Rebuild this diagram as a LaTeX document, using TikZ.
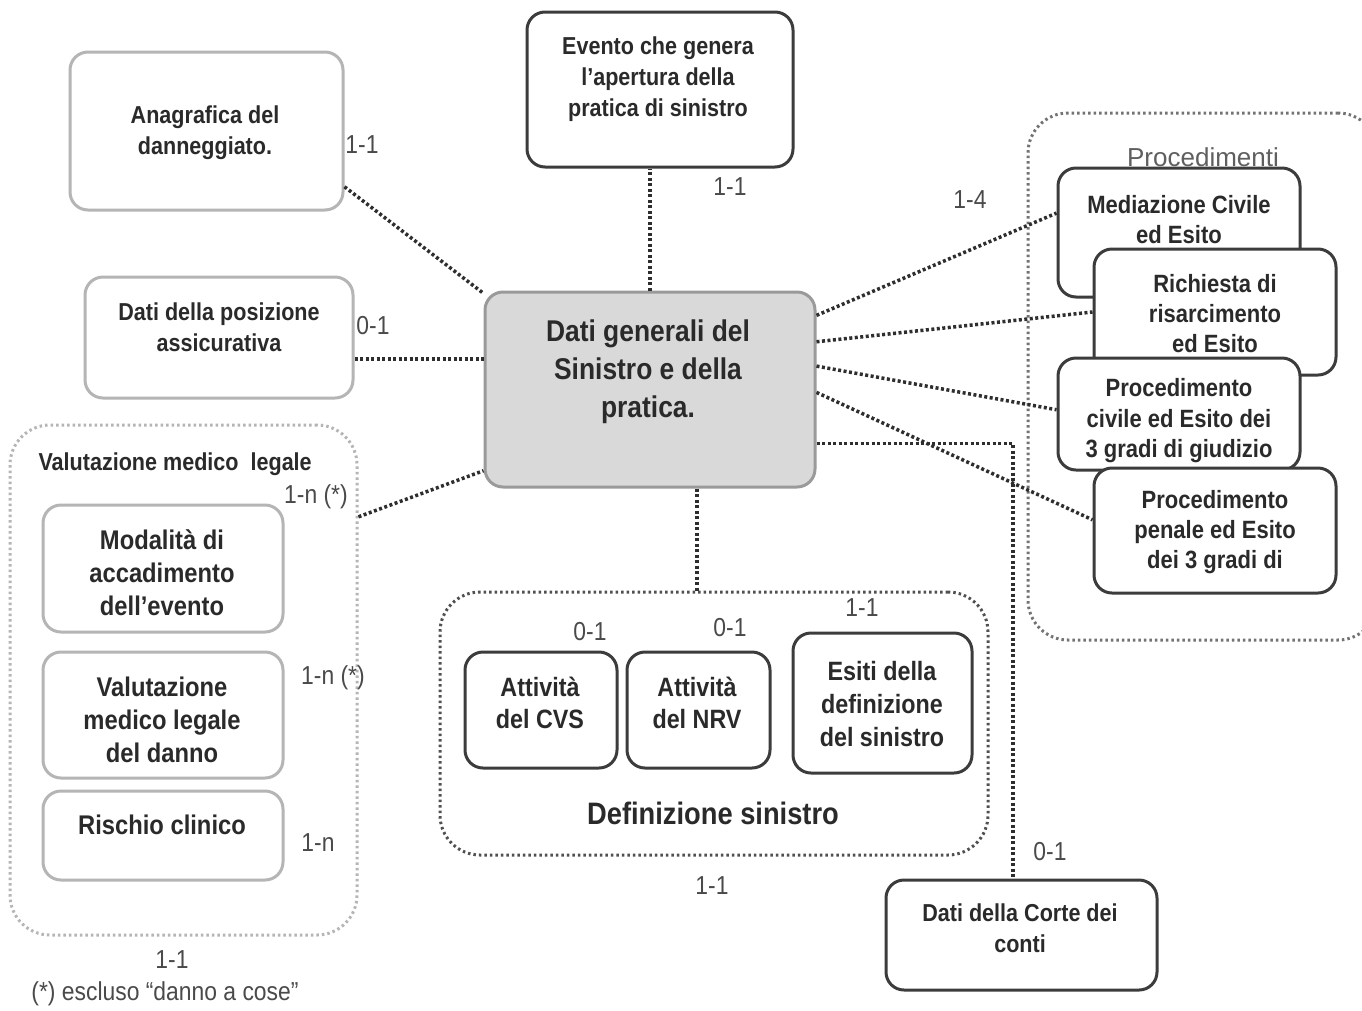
\documentclass[tikz,border=0pt]{standalone}
\usepackage{fontspec}
\setmainfont{Liberation Sans}[FakeStretch=0.88]
\newfontfamily\wideff{Liberation Sans}
\usetikzlibrary{calc}
\definecolor{lightln}{HTML}{B5B5B5}
\definecolor{darkln}{HTML}{3C3C3C}
\definecolor{txt}{HTML}{2A2A2A}
\definecolor{ctrfill}{HTML}{D9D9D9}
\definecolor{ctrln}{HTML}{9A9A9A}
\definecolor{dotln}{HTML}{2E2E2E}
\begin{document}
\begin{tikzpicture}[x=1pt,y=-1pt,
  every node/.style={text=txt},
  boxbase/.style={rectangle, rounded corners=18pt, inner sep=0pt, line width=3pt},
  lbox/.style={boxbase, draw=lightln, fill=white},
  dbox/.style={boxbase, draw=darkln, fill=white},
  cbox/.style={boxbase, draw=ctrln, fill=ctrfill},
  grp/.style={rectangle, rounded corners=40pt, inner sep=0pt, line width=3pt, dash pattern=on 2.5pt off 3pt},
  btxt/.style={align=center, font=\fontsize{24.5}{31}\selectfont\bfseries},
  ltxt/.style={align=center, font=\fontsize{27}{33}\selectfont\bfseries},
  dtxt/.style={align=center, font=\fontsize{26.5}{33}\selectfont\bfseries},
  ctxt/.style={align=center, font=\fontsize{30}{38}\selectfont\bfseries},
  lab/.style={font=\fontsize{26}{30}\selectfont, text=txt!85},
  conn/.style={draw=dotln, line width=3.5pt, dash pattern=on 3pt off 2.5pt}
]
\useasboundingbox (0,0) rectangle (1362,1010);
\clip (0,0) rectangle (1362,1010);
\fill[white] (0,0) rectangle (1362,1010);

% groups
\node[grp, draw=lightln, minimum width=347, minimum height=510] (grpVal) at (183.5,680) {};
\node[grp, draw=gray!90!black, minimum width=350, minimum height=527] (grpProc) at (1203,376.5) {};
\node[grp, draw=darkln!90, minimum width=548, minimum height=263] (grpDef) at (714,723.5) {};

% boxes
\node[lbox, minimum width=273, minimum height=158] (ana) at (206.5,131) {};
\node[dbox, minimum width=266, minimum height=155] (evt) at (660,89.5) {};
\node[cbox, minimum width=330, minimum height=195] (ctr) at (650,389.5) {};
\node[lbox, minimum width=268, minimum height=121] (pos) at (219,337.5) {};
\node[lbox, minimum width=240, minimum height=127] (mod) at (163,568.5) {};
\node[lbox, minimum width=240, minimum height=126] (vml) at (163,715) {};
\node[lbox, minimum width=240, minimum height=89] (ris) at (163,835.5) {};
\node[dbox, minimum width=152, minimum height=116] (cvs) at (541,710) {};
\node[dbox, minimum width=143, minimum height=116] (nrv) at (698.5,710) {};
\node[dbox, minimum width=179, minimum height=140] (esi) at (882.5,703) {};
\node[dbox, minimum width=271, minimum height=110] (cor) at (1021.5,935) {};

% connectors
\draw[conn] (ana.-22.7) -- (ctr.150);
\draw[conn] (ctr.north) -- (ctr.north |- evt.south);
\draw[conn] (pos.-9) -- (pos.-9 -| ctr.west);
\draw[conn] (grpVal.43.6) -- (ctr.206.7);
\draw[conn] ([xshift=47pt]ctr.south) -- ([xshift=47pt]ctr.south |- grpDef.north);

% procedimenti boxes
\node[dbox, minimum width=242, minimum height=129] (med) at (1179,232.5) {};
\node[dbox, minimum width=242, minimum height=126] (ric) at (1215,312) {};
\node[dbox, minimum width=242, minimum height=112] (pciv) at (1179,414) {};
\node[dbox, minimum width=242, minimum height=125] (ppen) at (1215,530.5) {};

\draw[conn] (ctr.24.3) -- (med.171.8);
\draw[conn] (ctr.16.7) -- (ric.west);
\draw[conn] (ctr.8.4) -- (pciv.178);
\draw[conn] (ctr.-1) -- (ppen.175);
\draw[conn] (ctr.-18.3) -| ([xshift=-8.5pt]cor.north);

% texts
\node[btxt] (ana-t) at (205,133) {Anagrafica del\\danneggiato.};
\node[btxt] (evt-t) at (658,79) {Evento che genera\\l’apertura della\\pratica di sinistro};
\node[ctxt] (ctr-t) at (648,372) {Dati generali del\\Sinistro e della\\pratica.};
\node[btxt] (pos-t) at (219,327) {Dati della posizione\\assicurativa};
\node[btxt, anchor=west] (val-t) at (35,464) {Valutazione medico\ \ legale};
\node[ltxt] (mod-t) at (162,573) {Modalità di\\accadimento\\dell’evento};
\node[ltxt] (vml-t) at (162,720) {Valutazione\\medico legale\\del danno};
\node[ltxt] (ris-t) at (162,825) {Rischio clinico};
\node[font=\wideff\fontsize{26}{30}\selectfont, text=txt!75] (proc-t) at (1203,157) {Procedimenti};
\node[btxt, font=\fontsize{25}{30}\selectfont\bfseries] (med-t) at (1179,220) {Mediazione Civile\\ed Esito};
\node[btxt, font=\fontsize{25}{30}\selectfont\bfseries] (ric-t) at (1215,314) {Richiesta di\\risarcimento\\ed Esito};
\node[btxt, font=\fontsize{25}{30.5}\selectfont\bfseries] (pciv-t) at (1179,421) {Procedimento\\civile ed Esito dei\\3 gradi di giudizio};
\node[btxt, font=\fontsize{25}{30}\selectfont\bfseries] (ppen-t) at (1215,532) {Procedimento\\penale ed Esito\\dei 3 gradi di};
\node[dtxt, font=\fontsize{26.5}{32}\selectfont\bfseries] (cvs-t) at (540,703) {Attività\\del CVS};
\node[dtxt, font=\fontsize{26.5}{32}\selectfont\bfseries] (nrv-t) at (697,703) {Attività\\del NRV};
\node[dtxt] (esi-t) at (882,704) {Esiti della\\definizione\\del sinistro};
\node[align=center, font=\fontsize{31}{36}\selectfont\bfseries] (def-t) at (713,813) {Definizione sinistro};
\node[btxt] (cor-t) at (1020,928) {Dati della Corte dei\\conti};

% cardinality labels
\node[lab] (l1) at (362,145) {1-1};
\node[lab] (l2) at (730,187) {1-1};
\node[lab] (l3) at (970,200) {1-4};
\node[lab] (l4) at (373,326) {0-1};
\node[lab] (l5) at (316,497) {1-n (*)};
\node[lab] (l6) at (333,678) {1-n (*)};
\node[lab] (l7) at (318,843) {1-n};
\node[lab] (l8) at (172,960) {1-1};
\node[lab] (l9) at (165,994) {(*) escluso “danno a cose”};
\node[lab] (l10) at (590,632) {0-1};
\node[lab] (l11) at (730,628) {0-1};
\node[lab] (l12) at (862,608) {1-1};
\node[lab] (l13) at (712,886) {1-1};
\node[lab] (l14) at (1050,852) {0-1};
\end{tikzpicture}
\end{document}
